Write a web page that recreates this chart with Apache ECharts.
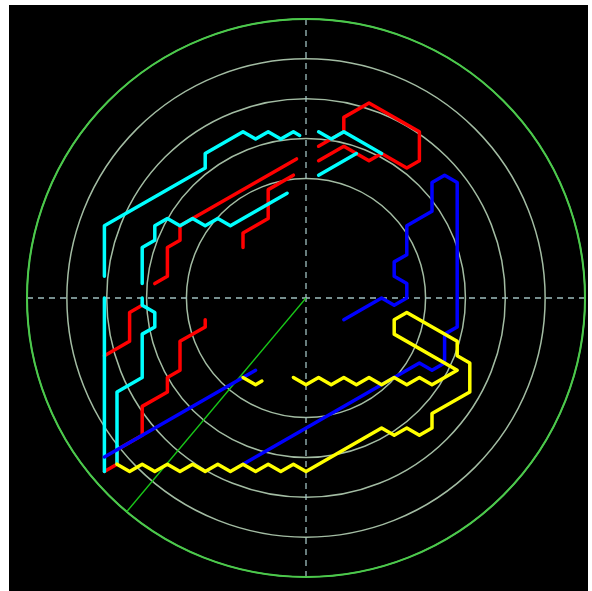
<!DOCTYPE html>
<html>
<head>
<meta charset="utf-8">
<script src="https://cdn.jsdelivr.net/npm/echarts@6/dist/echarts.min.js"></script>
<style>
  html, body { margin: 0; padding: 0; background: #ffffff; width: 592px; height: 591px; overflow: hidden; }
  #chart { position: absolute; left: 9px; top: 5px; width: 579px; height: 586px; }
</style>
</head>
<body>
<div id="chart"></div>
<script>
// Track vertices in grid units: x = column, y = row
const redTrack1 = [[-16,-4],[-14,-3],[-14,-1],[-13,-0.5]];
const redTrack2 = [[-12,1],[-11,1.5],[-11,3.5],[-10,4],[-10,5],[-9,5.5],[-0.75,9.625]];
const redTrack3 = [[1,10.5],[3,11.5],[3,12.5],[5,13.5],[9,11.5],[9,9.5],[8,9],[6,10],[5,9.5],[3,10.5],[1,9.5]];
const redTrack4 = [[-1,8.5],[-3,7.5],[-3,5.5],[-5,4.5],[-5,3.5]];
const redTrack5 = [[-8,-1.5],[-8,-2],[-10,-3],[-10,-5],[-11,-5.5],[-11,-6.5],[-13,-7.5],[-13,-9.5],[-15,-10.5],[-15,-11.5],[-16,-12]];

const cyanTrack1 = [[-16,1.5],[-16,5],[-15,5.5],[-8,9],[-8,10],[-5,11.5],[-4,11],[-3,11.5],[-2,11],[-1,11.5],[-0.5,11.25]];
const cyanTrack2 = [[1,11.5],[2,11],[3,11.5],[6,10]];
const cyanTrack3 = [[-13,1],[-13,3.5],[-12,4],[-12,5],[-11,5.5],[-10,5],[-9,5.5],[-8,5],[-7,5.5],[-6,5],[-5,5.5],[-1.5,7.25]];
const cyanTrack4 = [[1,8.5],[4,10]];
const cyanTrack5 = [[-16,0],[-16,-12]];
const cyanTrack6 = [[-13,0],[-13,-0.5],[-12,-1],[-12,-2],[-13,-2.5],[-13,-5.5],[-15,-6.5],[-15,-11.5]];

const blueTrack1 = [[-16,-11],[-4,-5]];
const blueTrack2 = [[3,-1.5],[6,0],[7,-0.5],[8,0],[8,1],[7,1.5],[7,2.5],[8,3],[8,5],[10,6],[10,8],[11,8.5],[12,8],[12,-2],[11,-2.5],[11,-4.5],[10,-5],[9,-4.5],[-5,-11.5]];

const yellowTrack1 = [[-5,-5.5],[-4,-6],[-3.5,-5.75]];
const yellowTrack2 = [[-1,-5.5],[0,-6],[1,-5.5],[2,-6],[3,-5.5],[4,-6],[5,-5.5],[6,-6],[7,-5.5],[8,-6],[9,-5.5],[10,-6],[11,-5.5],[12,-5],
  [7,-2.5],[7,-1.5],[8,-1],[12,-3],[12,-4],[13,-4.5],[13,-6.5],[10,-8],[10,-9],[9,-9.5],[8,-9],[7,-9.5],[6,-9],[0,-12],
  [-1,-11.5],[-2,-12],[-3,-11.5],[-4,-12],[-5,-11.5],[-6,-12],[-7,-11.5],[-8,-12],[-9,-11.5],[-10,-12],[-11,-11.5],[-12,-12],[-13,-11.5],[-14,-12],[-15,-11.5]];

// Sweep line (radius, angle in degrees)
const sweepLine = [[0,230],[7,230]];
const ringValues = [0,1,2,3,4,5,6,7];

const trackGroups = [
  { color: '#ff0000', tracks: [redTrack1, redTrack2, redTrack3, redTrack4, redTrack5] },
  { color: '#00ffff', tracks: [cyanTrack1, cyanTrack2, cyanTrack3, cyanTrack4, cyanTrack5, cyanTrack6] },
  { color: '#0000ff', tracks: [blueTrack1, blueTrack2] },
  { color: '#ffff00', tracks: [yellowTrack1, yellowTrack2] }
];

const chart = echarts.init(document.getElementById('chart'));
const R = 279, CX = 297, CY = 293;
const colW = 12.6, rowH = 14.45;

const ringColors = ringValues.map(v => v < 3 ? 'rgba(0,0,0,0)' : (v === 7 ? '#4cc84c' : '#a3bca3'));

const series = [];
trackGroups.forEach(g => {
  g.tracks.forEach(t => {
    series.push({
      type: 'line',
      xAxisIndex: 0, yAxisIndex: 0,
      data: t,
      showSymbol: false,
      symbol: 'none',
      silent: true,
      lineStyle: { color: g.color, width: 3.5, cap: 'round', join: 'round' }
    });
  });
});
series.push({
  type: 'line',
  coordinateSystem: 'polar',
  polarIndex: 0,
  data: sweepLine,
  showSymbol: false,
  symbol: 'none',
  silent: true,
  lineStyle: { color: '#18c818', width: 1.3 },
  z: 1
});

chart.setOption({
  backgroundColor: '#000000',
  animation: false,
  polar: { center: [CX, CY], radius: R },
  angleAxis: {
    type: 'value', min: 0, max: 360, interval: 90, startAngle: 0, clockwise: false,
    axisLine: { show: true, lineStyle: { color: '#4cc84c', width: 2 } },
    axisTick: { show: false }, axisLabel: { show: false },
    splitLine: { show: true, lineStyle: { color: '#9fbfbf', width: 1.3, type: [6, 5] } }
  },
  radiusAxis: {
    type: 'value', min: 0, max: 7, interval: 1,
    axisLine: { show: false }, axisTick: { show: false }, axisLabel: { show: false },
    splitLine: { show: true, lineStyle: { color: ringColors, width: 1.5 } }
  },
  grid: { left: CX - R, top: CY - R, width: 2 * R, height: 2 * R },
  xAxis: { type: 'value', min: -R / colW, max: R / colW, show: false },
  yAxis: { type: 'value', min: -R / rowH, max: R / rowH, show: false },
  series: series
});
</script>
</body>
</html>
